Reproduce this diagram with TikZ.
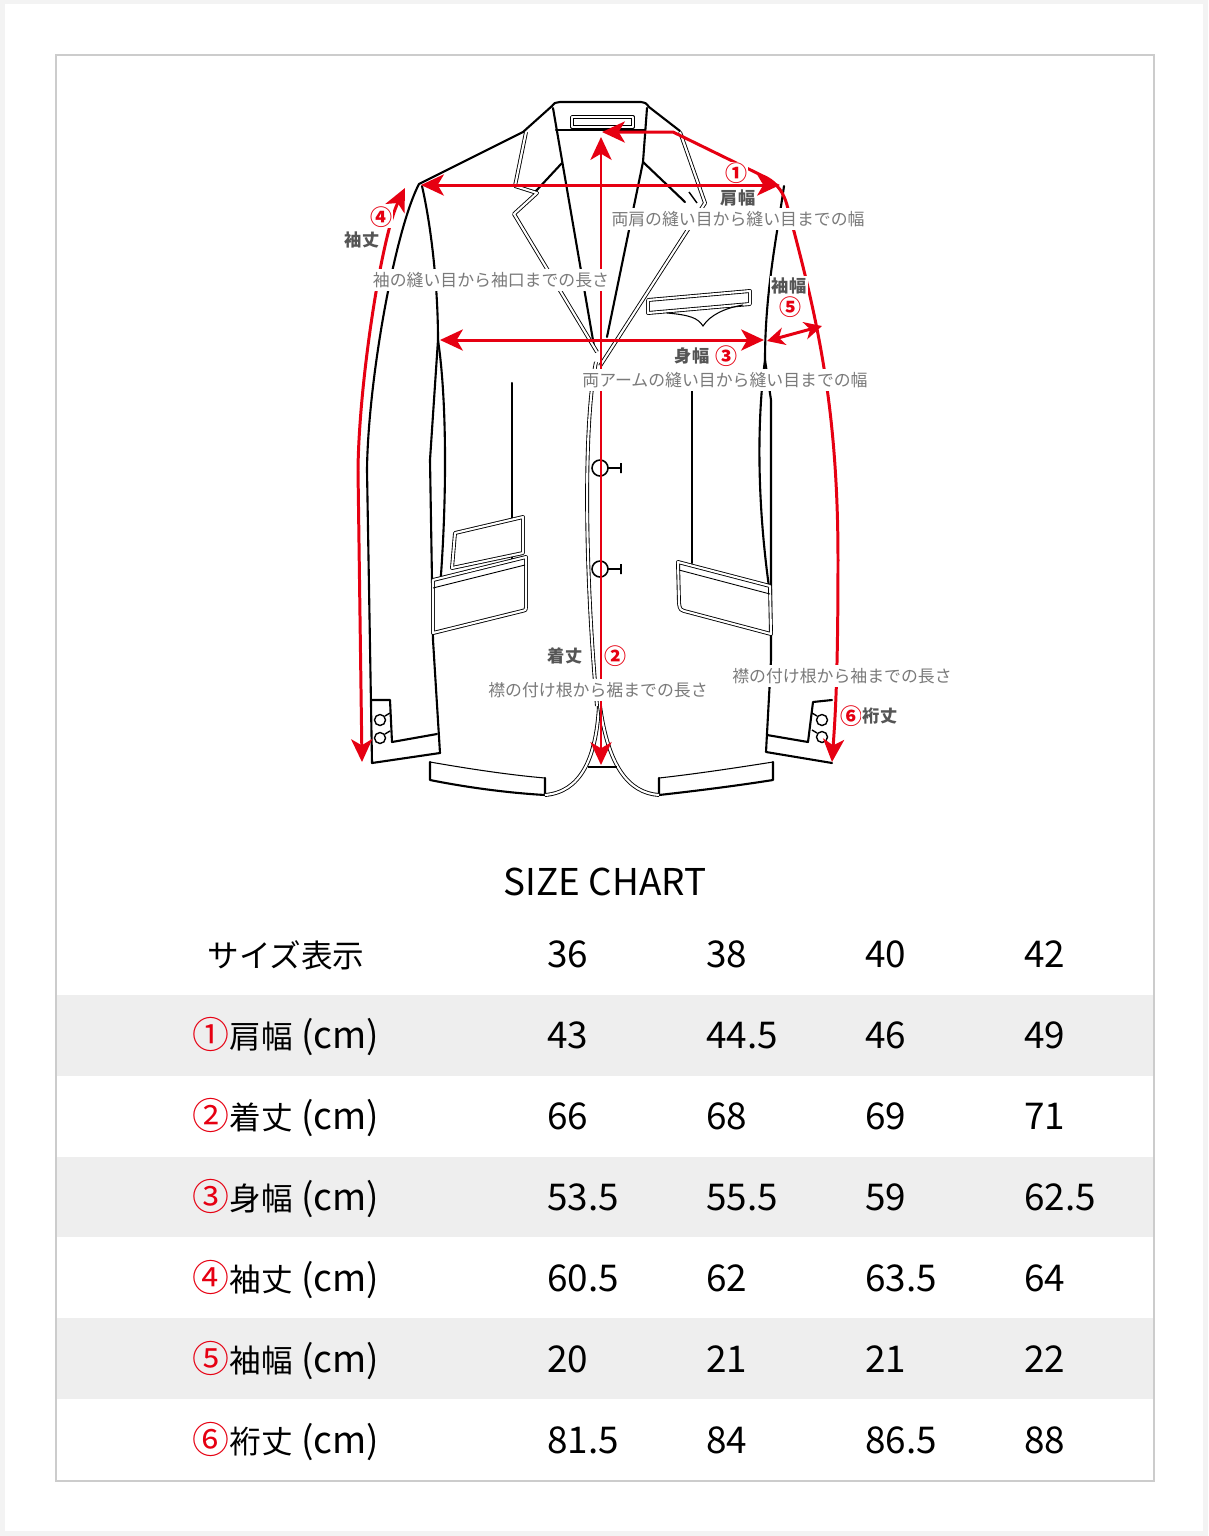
\documentclass[tikz,border=0pt]{standalone}
\usepackage{fontspec}
\setmainfont{Noto Sans CJK JP}
\usetikzlibrary{arrows.meta}
\definecolor{sizered}{HTML}{E60012}
\definecolor{notegray}{HTML}{7A7A7A}
\definecolor{taggray}{HTML}{555555}
\definecolor{rowgray}{HTML}{EEEEEE}
\definecolor{framegray}{HTML}{CCCCCC}
\definecolor{pagegray}{HTML}{F3F3F3}
\tikzset{>={Stealth[length=13pt,width=12pt,inset=3.5pt]}}
\tikzset{
  coat/.style={line width=1.2pt,line join=round,line cap=round},
  seam/.style={line width=0.5pt,double=white,double distance=1.2pt,line join=round},
  measure/.style={sizered,line width=1.7pt,line join=round,<->},
  note/.style={fill=white,inner xsep=1pt,inner ysep=2pt,text=notegray,font=\fontsize{9.6}{10}\selectfont},
  tag/.style={fill=white,inner sep=1pt,text=taggray,font=\bfseries\fontsize{9.8}{10}\selectfont},
  circnum/.style={fill=white,inner sep=0.5pt,text=sizered,font=\bfseries\fontsize{12.5}{13}\selectfont},
  rowhead/.style={anchor=base,inner sep=0pt,font=\fontsize{18}{20}\selectfont},
  rowval/.style={anchor=base west,inner sep=0pt,font=\fontsize{21}{23}\selectfont}
}
\newcommand{\cmunit}{{\fontsize{21}{23}\selectfont\ (cm)}}
\newcommand{\rownum}[1]{{\color{sizered}\fontsize{21}{23}\selectfont #1}}

\begin{document}
\begin{tikzpicture}[x=0.02cm,y=-0.02cm]
    \useasboundingbox (0,0) rectangle (1208,1536);
    \fill[pagegray] (0,0) rectangle (1208,1536);
    \fill[white] (5,4) rectangle (1203,1531);
    \fill[rowgray] (56,995) rectangle (1154,1076);
    \fill[rowgray] (56,1157) rectangle (1154,1237);
    \fill[rowgray] (56,1318) rectangle (1154,1399);
    \draw[framegray,line width=1.1pt] (56,55) rectangle (1154,1481);

    % jacket outline
    \draw[coat] (419,184) -- (523,132) -- (552,106) .. controls (554,103) .. (560,102)
      -- (641,102) .. controls (646,103) .. (649,107) -- (680,131);
    \draw[coat] (419,184) .. controls (395,230) and (368,380) .. (367,470) -- (372,763) -- (440,753);
    \draw[coat] (422,186) .. controls (432,230) and (438,290) .. (438,340) -- (430,460) -- (433,640) -- (440,753);
    \draw[coat] (438,340) .. controls (447,400) and (447,500) .. (440,588);
    \draw[coat] (372,700) -- (390,700) -- (392,742) -- (437,734);
    \draw[line width=0.8pt] (380,720) circle (0.11cm) (380,738) circle (0.11cm);
    \draw[line width=0.8pt] (385,716) -- (390,713) (385,734) -- (390,731);
    \draw[coat] (784,186) .. controls (778,230) and (765,290) .. (765,360) -- (771,400) -- (771,660) -- (766,752) -- (832,763);
    \draw[coat] (765,360) .. controls (757,420) and (757,500) .. (769,587);
    \draw[coat] (767,735) -- (808,742) -- (813,702) -- (832,700);
    \draw[line width=0.8pt] (822,720) circle (0.11cm) (822,737) circle (0.11cm);
    \draw[line width=0.8pt] (817,716) -- (812,713) (817,733) -- (812,730);

    % hem and front
    \draw[coat] (430,762) -- (430,780) .. controls (470,788) and (510,793) .. (545,795) -- (545,778);
    \draw[line width=0.6pt] (430,762) .. controls (470,769) and (510,775) .. (545,778);
    \draw[coat] (773,762) -- (773,780) .. controls (735,786) and (695,791) .. (659,795) -- (659,778);
    \draw[line width=0.6pt] (773,762) .. controls (735,768) and (695,774) .. (659,778);
    \draw[seam] (599,706) .. controls (596,760) and (580,792) .. (545,795);
    \draw[seam] (600,706) .. controls (608,765) and (628,793) .. (659,795);
    \draw[line width=0.9pt] (588,767) -- (617,767);
    \draw[seam] (596,362) .. controls (584,420) and (584,560) .. (597,706);
    \draw[coat] (512,383) -- (512,566);
    \draw[coat] (692,383) -- (692,563);
    \draw[line width=0.9pt] (600,468) circle (0.16cm) (608,468) -- (621,468) (621,463) -- (621,473);
    \draw[line width=0.9pt] (600,569) circle (0.16cm) (608,569) -- (621,569) (621,564) -- (621,574);

    % pockets
    \draw[seam,fill=white] (455,533) -- (523,517) -- (523,553) -- (452,568) -- cycle;
    \draw[seam,fill=white] (433,580) -- (526,557) -- (526,607) .. controls (526,610) .. (522,611) -- (433,633) -- cycle;
    \draw[line width=0.5pt] (433,588) -- (525,565);
    \draw[seam,fill=white] (678,562) -- (770,586) -- (771,634) -- (688,612) .. controls (680,610) .. (679,603) -- cycle;
    \draw[line width=0.5pt] (679,570) -- (770,594);
    \draw[seam,fill=white] (648,300) -- (750,291) -- (750,304) -- (648,313) -- cycle;
    \draw[line width=0.6pt] (667,313) .. controls (690,315) and (698,318) .. (703,326)
      .. controls (710,315) and (725,308) .. (743,305);

    % collar and lapels
    \draw[seam] (572,117) rectangle (633,127);
    \draw[coat] (556,130) -- (645,130);
    \draw[coat] (553,108) -- (594,346);
    \draw[coat] (647,108) -- (643,162) -- (607,337);
    \draw[coat] (562,163) -- (535,192);
    \draw[coat] (643,162) -- (685,202);
    \draw[seam] (526,132) -- (515,186) -- (537,193) -- (514,214) -- (597,352);
    \draw[seam] (680,132) -- (705,203) -- (600,366);
    \draw[line width=0.8pt] (689,192) -- (697,203);

    % measures
    \draw[measure] (421,185) -- (780,185);
    \draw[measure] (601,137) -- (601,765);
    \draw[measure] (440,340) -- (764,340);
    \draw[measure] (405,188) .. controls (382,235) and (359,380) .. (358,470) -- (362,762);
    \draw[measure,>={Stealth[length=10pt,width=10pt,inset=3pt]}] (767,341) -- (822,326);
    \draw[measure] (602,132) -- (673,132) -- (767,178) .. controls (778,184) and (784,194) .. (787,205)
      .. controls (815,310) and (838,400) .. (838,560) .. controls (838,680) and (835,720) .. (832,762);

    \node[circnum] (n1) at (736,173) {①};
    \node[tag] (t1) at (738,198) {肩幅};
    \node[note] (d1) at (738,219) {両肩の縫い目から縫い目までの幅};
    \node[circnum] (n4) at (381,217) {④};
    \node[tag] (t4) at (362,240) {袖丈};
    \node[note] (d4) at (491,280) {袖の縫い目から袖口までの長さ};
    \node[tag] (t5) at (789,286) {袖幅};
    \node[circnum] (n5) at (790,307) {⑤};
    \node[tag] (t3) at (692,356) {身幅};
    \node[circnum] (n3) at (726,356) {③};
    \node[note] (d3) at (725,380) {両アームの縫い目から縫い目までの幅};
    \node[tag] (t2) at (565,656) {着丈};
    \node[circnum] (n2) at (615,656) {②};
    \node[note] (d2) at (598,690) {襟の付け根から裾までの長さ};
    \node[note] (d6) at (842,676) {襟の付け根から袖までの長さ};
    \node[circnum] (n6) at (851,716) {⑥};
    \node[tag] (t6) at (880,716) {裄丈};

    % size chart
    \node[anchor=base,inner sep=0pt,font=\fontsize{21}{23}\selectfont] (title) at (605,895) {SIZE CHART};
    \foreach \rowlbl/\va/\vb/\vc/\vd [count=\r from 0] in {
      {サイズ表示}/36/38/40/42,
      {\rownum{①}肩幅\cmunit}/43/44.5/46/49,
      {\rownum{②}着丈\cmunit}/66/68/69/71,
      {\rownum{③}身幅\cmunit}/53.5/55.5/59/62.5,
      {\rownum{④}袖丈\cmunit}/60.5/62/63.5/64,
      {\rownum{⑤}袖幅\cmunit}/20/21/21/22,
      {\rownum{⑥}裄丈\cmunit}/81.5/84/86.5/88}{
      \node[rowhead] (head\r) at (286,967+81*\r) {\rowlbl};
      \node[rowval] (va\r) at (547,967+81*\r) {\va};
      \node[rowval] (vb\r) at (706,967+81*\r) {\vb};
      \node[rowval] (vc\r) at (865,967+81*\r) {\vc};
      \node[rowval] (vd\r) at (1024,967+81*\r) {\vd};
    }
\end{tikzpicture}
\end{document}
